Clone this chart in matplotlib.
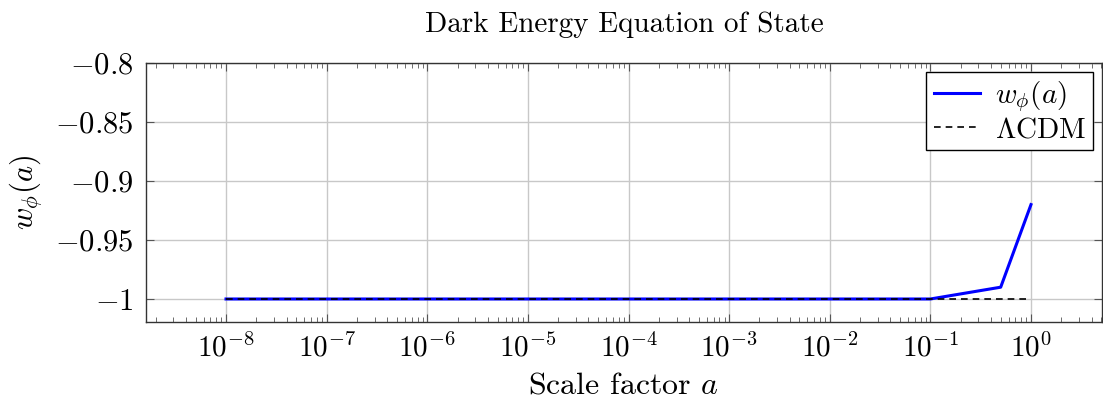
import matplotlib
matplotlib.use("Agg")
import matplotlib.pyplot as plt
import numpy as np

plt.rcParams['font.family'] = 'serif'
plt.rcParams['font.serif'] = ['cmr10']
plt.rcParams['mathtext.fontset'] = 'cm'
plt.rcParams['axes.formatter.use_mathtext'] = True

a_vals = [1e-8, 1e-7, 1e-6, 1e-5, 1e-4, 1e-3, 1e-2, 1e-1, 0.5, 1.0]
w_vals = [-1.0, -1.0, -1.0, -1.0, -1.0, -1.0, -1.0, -1.0, -0.99, -0.92]
lcdm_a = [1e-8, 1.0]
lcdm_w = [-1.0, -1.0]
yticks = [-1.0, -0.95, -0.9, -0.85, -0.8]
ytick_labels = [r'$-1$', r'$-0.95$', r'$-0.9$', r'$-0.85$', r'$-0.8$']
xticks = [1e-8, 1e-7, 1e-6, 1e-5, 1e-4, 1e-3, 1e-2, 1e-1, 1e0]
xtick_labels = [r'$10^{-8}$', r'$10^{-7}$', r'$10^{-6}$', r'$10^{-5}$', r'$10^{-4}$',
                r'$10^{-3}$', r'$10^{-2}$', r'$10^{-1}$', r'$10^{0}$']

fig = plt.figure(figsize=(11.03, 4.0), dpi=100)
ax = fig.add_axes([146/1103, 1 - 322/400, (1102 - 146)/1103, (322 - 63)/400])

ax.plot(a_vals, w_vals, color='#0000ff', lw=2.2, label=r'$w_\phi(a)$', zorder=3)
ax.plot(lcdm_a, lcdm_w, color='black', lw=1.2, ls=(0, (4, 3)), label=r'$\Lambda$CDM', zorder=4)

ax.set_xscale('log')
ax.set_xlim(10**(-80/100.6 - 8), 10**(71/100.6))
ax.set_ylim(-1.0195, -0.8)
ax.set_xticks(xticks)
ax.set_xticklabels(xtick_labels)
ax.set_yticks(yticks)
ax.set_yticklabels(ytick_labels)
ax.xaxis.set_minor_locator(matplotlib.ticker.LogLocator(base=10, subs=np.arange(2, 10), numticks=100))
ax.xaxis.set_minor_formatter(matplotlib.ticker.NullFormatter())

ax.tick_params(axis='both', which='both', direction='in', top=True, right=True, color='#555555')
ax.tick_params(axis='y', which='major', labelsize=22, length=6, width=0.8, pad=9)
ax.tick_params(axis='x', which='major', labelsize=21, length=6, width=0.8, pad=8)
ax.tick_params(axis='x', which='minor', length=3.5, width=0.6)
ax.grid(True, which='major', color='#c8c8c8', lw=1.0)
ax.set_axisbelow(True)
for s in ax.spines.values():
    s.set_linewidth(1.0)
    s.set_color('#333333')

ax.set_title('Dark Energy Equation of State', fontsize=21, pad=22)
ax.set_xlabel(r'Scale factor $a$', fontsize=23, labelpad=7)
ax.set_ylabel(r'$w_\phi(a)$', fontsize=22, labelpad=8)

leg = ax.legend(loc='upper right', fontsize=21, frameon=True, fancybox=False,
                edgecolor='black', framealpha=1, borderaxespad=0.3, handlelength=1.6,
                borderpad=0.25, labelspacing=0.1, handletextpad=0.5)
leg.get_frame().set_linewidth(1.0)

fig.savefig('out.png', dpi=100)
